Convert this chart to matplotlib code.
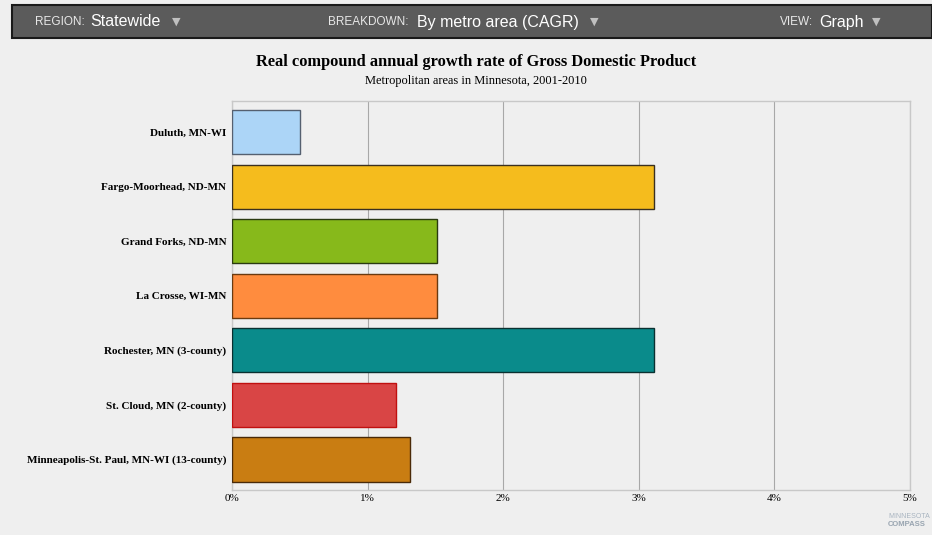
import matplotlib
matplotlib.use("Agg")
import matplotlib.pyplot as plt
from matplotlib.patches import Rectangle
from matplotlib.ticker import FixedLocator, FuncFormatter

categories = ["Duluth, MN-WI", "Fargo-Moorhead, ND-MN", "Grand Forks, ND-MN",
              "La Crosse, WI-MN", "Rochester, MN (3-county)", "St. Cloud, MN (2-county)",
              "Minneapolis-St. Paul, MN-WI (13-county)"]
values = [0.50, 3.11, 1.51, 1.51, 3.11, 1.21, 1.31]
colors = ["#acd5f7", "#f5bc1d", "#87b91b", "#ff8c3e", "#0a8b8b", "#d94545", "#c97d12"]
edges = ["#556070", "#3a3020", "#2a3a10", "#6a3a10", "#0a3030", "#c01010", "#4a2a08"]
xticks = [0, 1, 2, 3, 4, 5]

W, H = 932, 535
bg = "#efefef"
fig = plt.figure(figsize=(W / 100, H / 100), dpi=100, facecolor=bg)

# header bar
fig.patches.append(Rectangle((12 / W, 1 - 38 / H), (W - 12) / W, 33 / H,
                             transform=fig.transFigure, facecolor="#5b5b5b",
                             edgecolor="#1a1a1a", linewidth=1.5))
hy = 1 - 22 / H
sans = "Liberation Sans"
def hdr(x, small, xbig, big, tri):
    fig.text(x / W, hy, small, fontsize=8.5, color="#e8e8e8", family=sans, va="center")
    fig.text(xbig / W, hy, big, fontsize=11.5, color="#ffffff", family=sans, va="center")
    fig.text(tri / W, hy, "▼", fontsize=8, color="#c0c0c0", family="DejaVu Sans", va="center")
hdr(35, "REGION:", 90, "Statewide", 172)
hdr(328, "BREAKDOWN:", 417, "By metro area (CAGR)", 590)
hdr(780, "VIEW:", 819, "Graph", 872)

ax = fig.add_axes([232 / W, 1 - 490 / H, 678 / W, 389 / H])
ax.set_facecolor(bg)
y = list(range(len(categories)))
ax.barh(y, values, height=0.81, color=colors, edgecolor=edges, linewidth=1.0, zorder=3)
ax.set_ylim(6.56, -0.57)
ax.set_xlim(0, 5)
ax.xaxis.set_major_locator(FixedLocator(xticks))
ax.xaxis.set_major_formatter(FuncFormatter(lambda v, p: f"{int(v)}%"))
ax.set_yticks(y)
ax.set_yticklabels(categories, fontsize=8, fontweight="bold", family="Liberation Serif")
for lab in ax.get_xticklabels():
    lab.set_family("Liberation Serif")
    lab.set_fontsize(8)
ax.tick_params(axis="x", length=0, pad=3)
ax.tick_params(axis="y", length=0, pad=4)
ax.grid(axis="x", color="#a8a8a8", linewidth=0.8, zorder=0)
for s in ax.spines.values():
    s.set_color("#c8c8c8")
    s.set_linewidth(1)

fig.text(476 / W, 1 - 62 / H, "Real compound annual growth rate of Gross Domestic Product",
         ha="center", va="center", fontsize=11.8, fontweight="bold", family="Liberation Serif")
fig.text(476 / W, 1 - 81 / H, "Metropolitan areas in Minnesota, 2001-2010",
         ha="center", va="center", fontsize=8.9, family="Liberation Serif")

fig.text(888 / W, 1 - 516 / H, "MINNESOTA", fontsize=5, color="#a8b4c0", family=sans, va="center")
fig.text(888 / W, 1 - 525 / H, "COMPASS", fontsize=5.5, color="#98a4b0", family=sans, va="center", fontweight="bold")

fig.savefig("out.png", dpi=100, facecolor=bg)
